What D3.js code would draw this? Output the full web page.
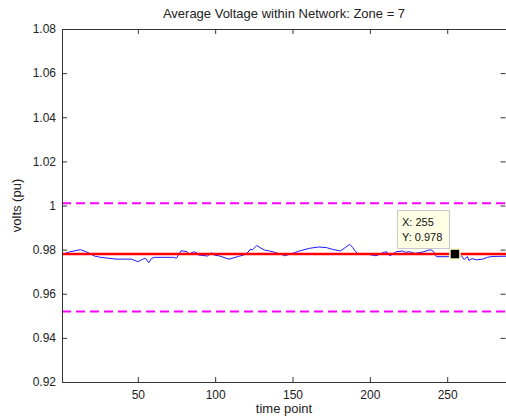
<!DOCTYPE html>
<html>
<head>
<meta charset="utf-8">
<script src="https://cdn.jsdelivr.net/npm/d3@7"></script>
<style>
  body { margin: 0; background: #fff; }
  text { font-family: "Liberation Sans", Arial, sans-serif; }
</style>
</head>
<body>
<div id="chart"></div>
<script>
// time points and average voltage values
var timePoints = [1, 6, 13, 18, 22, 26, 36, 46, 50, 53, 55, 57, 59, 61, 73, 75, 78, 82, 83, 86,
                  88, 89, 95, 98, 99, 103, 107, 109, 115, 120, 123, 124, 127, 129, 132, 135, 139, 144, 145, 150,
                  155, 161, 167, 172, 176, 181, 184, 187, 189, 190, 192, 197, 204, 209, 211, 212, 213, 217, 221, 223,
                  226, 229, 235, 238, 240, 242, 243, 251, 255, 258, 259, 261, 263, 264, 266, 269, 273, 276, 279, 288];
var voltage    = [0.9778, 0.9790, 0.9800, 0.9786, 0.9771, 0.9765, 0.9757, 0.9757, 0.9745, 0.9756, 0.9761, 0.9741, 0.9761, 0.9765, 0.9765, 0.9761, 0.9795, 0.9790, 0.9779, 0.9790,
                  0.9787, 0.9776, 0.9771, 0.9786, 0.9776, 0.9771, 0.9761, 0.9757, 0.9769, 0.9779, 0.9803, 0.9798, 0.9819, 0.9809, 0.9798, 0.9794, 0.9787, 0.9775, 0.9772, 0.9783,
                  0.9795, 0.9806, 0.9812, 0.9809, 0.9801, 0.9794, 0.9809, 0.9824, 0.9809, 0.9798, 0.9783, 0.9781, 0.9772, 0.9788, 0.9790, 0.9779, 0.9772, 0.9790, 0.9794, 0.9788,
                  0.9790, 0.9783, 0.9790, 0.9798, 0.9798, 0.9783, 0.9768, 0.9768, 0.9778, 0.9768, 0.9773, 0.9755, 0.9769, 0.9751, 0.9759, 0.9754, 0.9757, 0.9765, 0.9769, 0.9770];

// reference lines
var meanVoltage = 0.978;
var limits      = [1.001, 0.952];

// tick labels
var xTicks = [50, 100, 150, 200, 250];
var yTicks = [0.92, 0.94, 0.96, 0.98, 1.00, 1.02, 1.04, 1.06, 1.08];

// data cursor
var cursorX = 255;
var cursorY = 0.978;

var width  = 506;
var height = 419;
var mLeft = 62, mRight = 506, mTop = 29, mBottom = 382;

var x = d3.scaleLinear().domain([1, 288]).range([mLeft, mRight]);
var y = d3.scaleLinear().domain([0.92, 1.08]).range([mBottom, mTop]);

var svg = d3.select("#chart")
            .append("svg")
            .attr("width", width)
            .attr("height", height);

svg.append("rect")
   .attr("width", width)
   .attr("height", height)
   .style("fill", "white");

// title
svg.append("text")
   .text("Average Voltage within Network: Zone = 7")
   .attr("x", (mLeft + mRight) / 2)
   .attr("y", 18)
   .attr("text-anchor", "middle")
   .style("font-size", "13px")
   .style("fill", "#222");

var plot = svg.append("g");

// voltage trace
var line = d3.line()
             .x(function(d, i) { return x(timePoints[i]); })
             .y(function(d) { return y(d); });

plot.append("path")
    .datum(voltage)
    .attr("d", line)
    .style("fill", "none")
    .style("stroke", "#1a1aff")
    .style("stroke-width", 1);

// mean line
plot.append("line")
    .attr("x1", x(1)).attr("x2", x(288))
    .attr("y1", y(meanVoltage)).attr("y2", y(meanVoltage))
    .style("stroke", "#ff0000")
    .style("stroke-width", 2.5);

// limit lines
plot.selectAll(".limit")
    .data(limits)
    .enter()
      .append("line")
      .attr("class", "limit")
      .attr("x1", x(1)).attr("x2", x(288))
      .attr("y1", function(d) { return y(d); })
      .attr("y2", function(d) { return y(d); })
      .style("stroke", "#ff00ff")
      .style("stroke-width", 2)
      .style("stroke-dasharray", "9,5");

// axes with inward ticks
var axisColor = "#333";
var tickLen = 5;

var xBottom = svg.append("g")
                 .attr("transform", "translate(0," + mBottom + ")")
                 .call(d3.axisBottom(x).tickValues(xTicks).tickSize(-tickLen).tickPadding(8));
var xTop = svg.append("g")
              .attr("transform", "translate(0," + mTop + ")")
              .call(d3.axisTop(x).tickValues(xTicks).tickSize(-tickLen).tickFormat(""));
var yLeft = svg.append("g")
               .attr("transform", "translate(" + mLeft + ",0)")
               .call(d3.axisLeft(y).tickValues(yTicks).tickSize(-tickLen).tickPadding(6)
                       .tickFormat(function(d) { return String(+d.toFixed(2)); }));
var yRight = svg.append("g")
                .attr("transform", "translate(" + (mRight - 0.5) + ",0)")
                .call(d3.axisRight(y).tickValues(yTicks).tickSize(-tickLen).tickFormat(""));

[xBottom, xTop, yLeft, yRight].forEach(function(g) {
  g.select(".domain").remove();
  g.selectAll(".tick line").style("stroke", axisColor);
  g.selectAll("text")
   .style("font-size", "12px")
   .style("fill", "#222")
   .style("font-family", "'Liberation Sans', Arial, sans-serif");
});

// plot box
svg.append("rect")
   .attr("x", mLeft + 0.5)
   .attr("y", mTop + 0.5)
   .attr("width", mRight - mLeft)
   .attr("height", mBottom - mTop)
   .style("fill", "none")
   .style("stroke", axisColor)
   .style("stroke-width", 1);

// axis labels
svg.append("text")
   .text("time point")
   .attr("x", (mLeft + mRight) / 2)
   .attr("y", 413)
   .attr("text-anchor", "middle")
   .style("font-size", "13px")
   .style("fill", "#222");

svg.append("text")
   .text("volts (pu)")
   .attr("transform", "translate(21," + ((mTop + mBottom) / 2) + ") rotate(-90)")
   .attr("text-anchor", "middle")
   .style("font-size", "13px")
   .style("fill", "#222");

// data cursor marker and tip
var cx = x(cursorX), cy = y(cursorY);

svg.append("rect")
   .attr("x", cx - 5)
   .attr("y", cy - 5)
   .attr("width", 10)
   .attr("height", 10)
   .style("fill", "#000")
   .style("stroke", "#ffffc8")
   .style("stroke-width", 1.5);

var tip = svg.append("g")
             .attr("transform", "translate(" + (cx - 58) + "," + (cy - 44) + ")");

tip.append("rect")
   .attr("x", 0.5).attr("y", 0.5)
   .attr("width", 52)
   .attr("height", 38)
   .style("fill", "#ffffe6")
   .style("stroke", "#c8c8c8");

tip.append("text")
   .text("X: " + cursorX)
   .attr("x", 5).attr("y", 16)
   .style("font-size", "11px")
   .style("fill", "#111");

tip.append("text")
   .text("Y: " + cursorY)
   .attr("x", 5).attr("y", 31)
   .style("font-size", "11px")
   .style("fill", "#111");
</script>
</body>
</html>
